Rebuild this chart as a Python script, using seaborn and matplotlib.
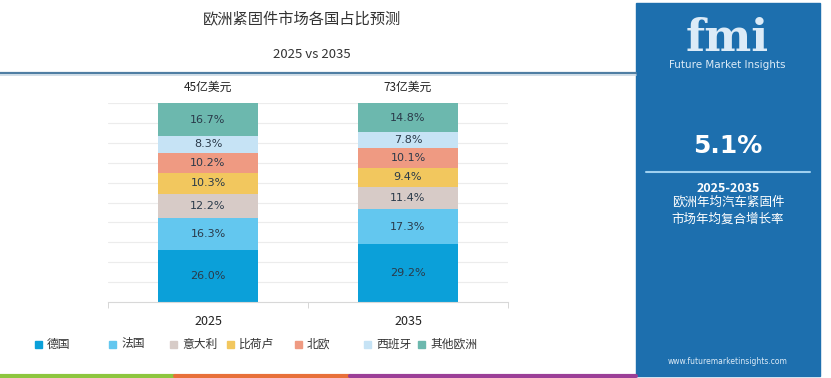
import matplotlib
matplotlib.use("Agg")
import matplotlib.pyplot as plt
import seaborn as sns
import numpy as np
import pandas as pd
from matplotlib.patches import Rectangle
from matplotlib.lines import Line2D

### chart data
years = ["2025", "2035"]
totals = ["45亿美元", "73亿美元"]
countries = ["德国", "法国", "意大利", "比荷卢", "北欧", "西班牙", "其他欧洲"]
share_2025 = [26.0, 16.3, 12.2, 10.3, 10.2, 8.3, 16.7]
share_2035 = [29.2, 17.3, 11.4, 9.4, 10.1, 7.8, 14.8]
colors = ["#0ba0d9", "#63c7ef", "#d7cbc7", "#f2c75e", "#ef9a82", "#c6e3f5", "#6cb8ae"]

sns.set_style("white")
plt.rcParams["font.family"] = ["Noto Sans CJK SC", "DejaVu Sans"]

fig = plt.figure(figsize=(8.31, 3.78), dpi=100)
W, H = 831, 378

def px(x0, y0, w, h):
    return [x0 / W, 1 - (y0 + h) / H, w / W, h / H]

### background decorations
bg = fig.add_axes([0, 0, 1, 1])
bg.set_xlim(0, W)
bg.set_ylim(H, 0)
bg.axis("off")
bg.add_patch(Rectangle((636, 3), 184, 373, color="#1d6fae"))
bg.add_line(Line2D([0, 636], [73, 73], color="#4f7ea3", lw=1.6))
bg.add_line(Line2D([0, 636], [75, 75], color="#c9d8e4", lw=1.2))
bg.add_line(Line2D([0, 175], [376, 376], color="#8dc63f", lw=3))
bg.add_line(Line2D([175, 350], [376, 376], color="#e8703a", lw=3))
bg.add_line(Line2D([350, 636], [376, 376], color="#9b3f97", lw=3))
bg.add_line(Line2D([646, 810], [172, 172], color="#9fd0f0", lw=1.5))

fig.text(302 / W, 1 - 20 / H, "欧洲紧固件市场各国占比预测", ha="center", va="center",
         fontsize=11, color="#333333")
fig.text(312 / W, 1 - 55 / H, "2025 vs 2035", ha="center", va="center",
         fontsize=9.5, color="#333333")

# right panel
fig.text(727 / W, 1 - 51 / H, "fmi", ha="center", va="baseline", fontsize=32,
         fontweight="bold", color="#dcebf7", family="DejaVu Serif")
fig.text(727 / W, 1 - 65 / H, "Future Market Insights", ha="center", va="center",
         fontsize=7.5, color="#dcebf7", family="DejaVu Sans")
fig.text(728 / W, 1 - 146 / H, "5.1%", ha="center", va="center", fontsize=18,
         fontweight="bold", color="white", family="DejaVu Sans")
fig.text(728 / W, 1 - 188 / H, "2025-2035", ha="center", va="center", fontsize=9,
         fontweight="bold", color="white")
fig.text(728 / W, 1 - 202 / H, "欧洲年均汽车紧固件", ha="center", va="center",
         fontsize=9, color="white")
fig.text(728 / W, 1 - 219 / H, "市场年均复合增长率", ha="center", va="center",
         fontsize=9, color="white")
fig.text(728 / W, 1 - 361 / H, "www.futuremarketinsights.com", ha="center",
         va="center", fontsize=5.5, color="#dcebf7", family="DejaVu Sans")

### stacked bars (cumulative heights drawn from the top segment down)
df = pd.DataFrame({"country": countries, "2025": share_2025, "2035": share_2035})
cum = df[years].cumsum()

ax = fig.add_axes(px(108, 103, 400, 199))
for i in range(len(countries) - 1, -1, -1):
    sns.barplot(x=years, y=cum.iloc[i].values, color=colors[i], width=0.5,
                saturation=1, ax=ax, linewidth=0)

for j, yr in enumerate(years):
    bottom = 0
    for i, c in enumerate(countries):
        v = df[yr][i]
        ax.text(j, bottom + v / 2, f"{v:.1f}%", ha="center", va="center",
                fontsize=8, color="#2a3a4a", family="DejaVu Sans")
        bottom += v
    ax.text(j, 104.5, totals[j], ha="center", va="bottom", fontsize=8.5, color="#222222")

ax.set_xlim(-0.5, 1.5)
ax.set_ylim(0, 100)
ax.set_yticks(np.arange(10, 101, 10))
ax.yaxis.grid(True, color="#ececec", lw=0.8)
ax.set_axisbelow(True)
ax.tick_params(axis="y", left=False, labelleft=False)
ax.tick_params(axis="x", bottom=False, labelsize=9, colors="#222222", pad=6)
ax.set_xticks([-0.5, 0.5, 1.5], minor=True)
ax.tick_params(axis="x", which="minor", bottom=True, length=4, color="#d0d0d0")
for s in ["top", "right", "left"]:
    ax.spines[s].set_visible(False)
ax.spines["bottom"].set_color("#d8d8d8")
ax.set_xlabel("")
ax.set_ylabel("")

### legend, placed item by item like the original
legend_x = [38, 112, 173, 230, 298, 367, 421]
for lx, c, name in zip(legend_x, colors, countries):
    bg.add_patch(Rectangle((lx - 3.5, 340.5), 7, 7, color=c))
    fig.text((lx + 9) / W, 1 - 344 / H, name, ha="left", va="center",
             fontsize=8.5, color="#333333")

fig.savefig("out.png", dpi=100)
